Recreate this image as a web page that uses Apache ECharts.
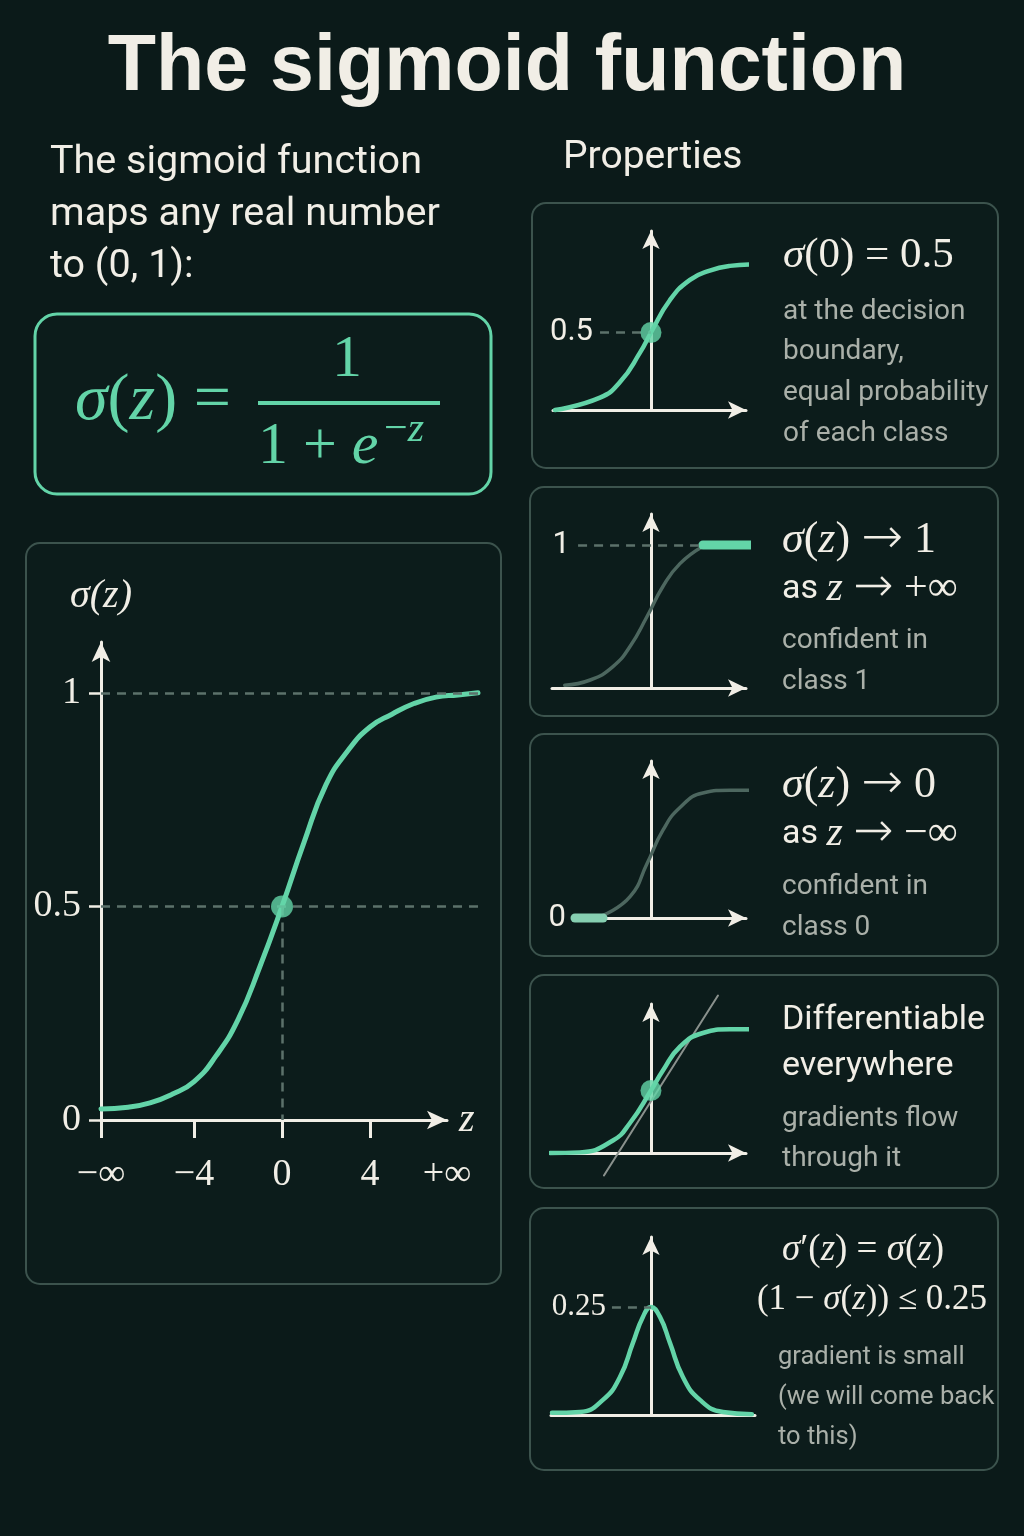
<!DOCTYPE html>
<html><head><meta charset="utf-8">
<script src="https://cdn.jsdelivr.net/npm/echarts@6/dist/echarts.min.js"></script>
<style>html,body{margin:0;padding:0;background:#0b1a19;}#c{width:1024px;height:1536px;}</style>
</head><body><div id="c"></div>
<script>
// ---------- data ----------
const mainZ     = [-8.23,-7,-6,-5,-4,-3,-2,-1,0,1,2,3,4,5,6,7,8,8.91];
const mainSigma = [0.026,0.03,0.04,0.06,0.09,0.15,0.235,0.36,0.5,0.65,0.785,0.865,0.92,0.95,0.975,0.99,0.995,1.0];
const mainYTicks = [0, 0.5, 1];
const mainGuides = [0.5, 1];
const mainXTicks = [-8.23, -4, 0, 4];
const mainXLabelValues = [-8.23, -4, 0, 4, 7.5];
const mainXLabelTexts  = ['−∞', '−4', '0', '4', '+∞'];

const p1Z     = [-4.9,-2.6,-1.58,-0.56,0,0.97,1.99,3.0,4.03,5.3];
const p1Sigma = [0,0.08,0.18,0.37,0.5,0.71,0.84,0.90,0.93,0.94];

const p2Z     = [-4.4,-3.1,-1.94,-1.07,-0.2,0.61,1.48,2.65];
const p2Sigma = [0.02,0.056,0.15,0.29,0.5,0.71,0.87,0.99];
const p2HighZ = [2.65, 5.3];
const p2HighV = [1, 1];

const p3Z     = [-2.45,-1.07,-0.2,0.61,1.48,2.65,4.03,5.2];
const p3Sigma = [0.02,0.16,0.41,0.66,0.83,0.94,0.96,0.96];
const p3LowZ  = [-3.88, -2.45];
const p3LowV  = [0, 0];

const p4Z     = [-5.15,-3.62,-1.94,-1.07,0,0.61,1.48,2.65,4.03,5.3];
const p4Sigma = [0,0.005,0.10,0.24,0.5,0.66,0.85,0.96,0.99,0.99];
const p4TangentZ = [-2.4, 3.42];
const p4TangentV = [-0.18, 1.26];

const p5Z     = [-5.05,-3.62,-2.45,-1.58,-0.92,-0.41,0,0.46,0.97,1.63,2.5,3.67,5.15];
const p5Deriv = [0.005,0.007,0.035,0.088,0.167,0.227,0.25,0.227,0.167,0.088,0.035,0.007,0.002];

// ---------- styles ----------
const BG='#0b1a19', GREEN='#63d4a8', WHITE='#f1eee6', GREY='#aab0a9', DASH='#5c716b', BORDER='#3c534d', DIM='#4d675f', TAN='#8a918d';
const SERIF='"Liberation Serif","DejaVu Serif",serif', SANS='Roboto,"Liberation Sans",sans-serif', ARROW='"DejaVu Sans",sans-serif';
const pairs = (a,b) => a.map((v,i)=>[v,b[i]]);

function miniX(g, min, max, arrow) {
  return {type:'value', gridIndex:g, min, max,
    axisLine:{show:true, onZero:true, lineStyle:{color:WHITE,width:3}, symbol: arrow?['none','arrow']:['none','none'], symbolSize:[13,18]},
    axisTick:{show:false}, axisLabel:{show:false}, splitLine:{show:false}};
}
function miniY(g, min, max, labelVals, margin, font) {
  return {type:'value', gridIndex:g, min, max,
    axisLine:{show:true, onZero:true, lineStyle:{color:WHITE,width:3}, symbol:['none','arrow'], symbolSize:[13,18]},
    axisTick:{show:false},
    axisLabel: labelVals ? {show:true, customValues:labelVals, margin, color:WHITE, fontFamily:font, fontSize:31,
      formatter:(v)=>String(v)} : {show:false},
    splitLine:{show:false}};
}
function curve(xi, data, color, width, extra) {
  return Object.assign({type:'line', xAxisIndex:xi, yAxisIndex:xi, data, smooth:0.5,
    symbol:'none', clip:false, lineStyle:{color, width, cap:'round'}, z:3}, extra||{});
}
function dashLine(xi, a, b) {
  return {type:'line', xAxisIndex:xi, yAxisIndex:xi, data:[], clip:false,
    markLine:{silent:true, symbol:['none','none'], label:{show:false}, animation:false,
      lineStyle:{color:DASH, width:2.5, type:[9,7]}, data:[[{coord:a},{coord:b}]]}, z:2};
}
function dot(xi, pt, size) {
  return {type:'scatter', xAxisIndex:xi, yAxisIndex:xi, data:[pt], symbolSize:size, itemStyle:{color:GREEN}, z:6, clip:false};
}

// ---------- graphic ----------
function rect(x,y,w,h,r,stroke,lw){ return {type:'rect', z:0, shape:{x,y,width:w,height:h,r}, style:{fill:'#0c1c1b', stroke, lineWidth:lw}}; }
function txt(x,y,text,font,fill,align,rich){ const s={text, x:0,y:0, font, fill, align:align||'left', verticalAlign:'middle'}; if(rich) s.rich=rich; return {type:'text', z:20, x, y, style:s}; }
const serifRich = (size, fill) => ({
  i:{font:'italic '+size+'px '+SERIF, fill}, n:{font:size+'px '+SERIF, fill}, s:{font:'34px '+SANS, fill},
  a:{font:'300 '+(size+6)+'px '+ARROW, fill}
});

const graphics = [
  rect(26,543,475,741,14,BORDER,2),
  rect(35,314,456,180,22,GREEN,3),
  rect(532,203,466,265,14,BORDER,2),
  rect(530,487,468,229,14,BORDER,2),
  rect(530,734,468,222,14,BORDER,2),
  rect(530,975,468,213,14,BORDER,2),
  rect(530,1208,468,262,14,BORDER,2),
  txt(507,68,'The sigmoid function','bold 79px "Liberation Sans",Arial,sans-serif',WHITE,'center'),
  txt(50,163,'The sigmoid function','39.5px '+SANS,WHITE),
  txt(50,215,'maps any real number','39.5px '+SANS,WHITE),
  txt(50,267,'to (0, 1):','39.5px '+SANS,WHITE),
  txt(563,158,'Properties','39px '+SANS,WHITE),
  // formula
  txt(75,402,'{i|σ}{n|(}{i|z}{n|) =}','66px '+SERIF,GREEN,'left',serifRich(66,GREEN)),
  txt(347,360,'1','60px '+SERIF,GREEN,'center'),
  {type:'line', z:20, shape:{x1:258,y1:403,x2:440,y2:403}, style:{stroke:GREEN,lineWidth:4}},
  txt(258,447,'{n|1 + }{i|e}','60px '+SERIF,GREEN,'left',serifRich(60,GREEN)),
  txt(384,430,'{n|−}{i|z}','42px '+SERIF,GREEN,'left',serifRich(42,GREEN)),
  // panel 1
  txt(783,256,'{i|σ}{n|(0) = 0.5}','43px '+SERIF,WHITE,'left',serifRich(43,WHITE)),
  txt(783,312,'at the decision','28px '+SANS,GREY),
  txt(783,352,'boundary,','28px '+SANS,GREY),
  txt(783,393,'equal probability','28px '+SANS,GREY),
  txt(783,434,'of each class','28px '+SANS,GREY),
  // panel 2
  txt(782,540,'{i|σ}{n|(}{i|z}{n|) }{a|→}{n| 1}','44px '+SERIF,WHITE,'left',serifRich(44,WHITE)),
  txt(782,589,'{s|as }{i|z}{n| }{a|→}{n| +∞}','42px '+SERIF,WHITE,'left',serifRich(42,WHITE)),
  txt(782,641,'confident in','28px '+SANS,GREY),
  txt(782,682,'class 1','28px '+SANS,GREY),
  // panel 3
  txt(782,785,'{i|σ}{n|(}{i|z}{n|) }{a|→}{n| 0}','44px '+SERIF,WHITE,'left',serifRich(44,WHITE)),
  txt(782,834,'{s|as }{i|z}{n| }{a|→}{n| −∞}','42px '+SERIF,WHITE,'left',serifRich(42,WHITE)),
  txt(782,887,'confident in','28px '+SANS,GREY),
  txt(782,928,'class 0','28px '+SANS,GREY),
  // panel 4
  txt(782,1020,'Differentiable','34px '+SANS,WHITE),
  txt(782,1066,'everywhere','34px '+SANS,WHITE),
  txt(782,1119,'gradients flow','28px '+SANS,GREY),
  txt(782,1159,'through it','28px '+SANS,GREY),
  // panel 5
  txt(863,1250,'{i|σ}{n|′(}{i|z}{n|) = }{i|σ}{n|(}{i|z}{n|)}','37px '+SERIF,WHITE,'center',serifRich(37,WHITE)),
  txt(872,1300,'{n|(1 − }{i|σ}{n|(}{i|z}{n|)) ≤ 0.25}','35px '+SERIF,WHITE,'center',serifRich(35,WHITE)),
  txt(778,1358,'gradient is small','25.5px '+SANS,GREY),
  txt(778,1398,'(we will come back','25.5px '+SANS,GREY),
  txt(778,1438,'to this)','25.5px '+SANS,GREY)
];

// ---------- option ----------
const option = {
  backgroundColor: BG,
  animation: false,
  graphic: graphics,
  grid: [
    {left:101, top:642, width:377, height:478, outerBoundsMode:'none'},   // 0 main data
    {left:101, top:642, width:346, height:478, outerBoundsMode:'none'},   // 1 main axes
    {left:553, top:231, width:193, height:179, outerBoundsMode:'none'},   // 2 p1
    {left:552, top:514, width:194, height:174, outerBoundsMode:'none'},   // 3 p2
    {left:575, top:761, width:171, height:157, outerBoundsMode:'none'},   // 4 p3
    {left:552, top:1004, width:194, height:149, outerBoundsMode:'none'},  // 5 p4
    {left:551, top:1237, width:204, height:178, outerBoundsMode:'none'}   // 6 p5
  ],
  xAxis: [
    {type:'value', gridIndex:0, min:-8.23, max:8.91, show:false},
    {type:'value', gridIndex:1, min:-8.23, max:7.5,
      name:'z', nameLocation:'end', nameGap:12,
      nameTextStyle:{color:WHITE, fontFamily:SERIF, fontStyle:'italic', fontSize:40, verticalAlign:'middle'},
      axisLine:{show:true, onZero:false, lineStyle:{color:WHITE,width:3}, symbol:['none','arrow'], symbolSize:[14,20]},
      axisTick:{show:true, customValues:mainXTicks, length:18, inside:false, lineStyle:{color:WHITE,width:3}},
      axisLabel:{show:true, customValues:mainXLabelValues, margin:36, color:WHITE, fontFamily:SERIF, fontSize:38,
        formatter:(v)=>{ let k=0,b=1e9; mainXLabelValues.forEach((x,i)=>{const d=Math.abs(x-v); if(d<b){b=d;k=i;}}); return mainXLabelTexts[k]; }},
      splitLine:{show:false}},
    miniX(2,-5.0,4.85,true),
    miniX(3,-5.05,4.85,true),
    miniX(4,-3.88,4.85,true),
    miniX(5,-5.05,4.85,true),
    miniX(6,-5.1,5.31,false)
  ],
  yAxis: [
    {type:'value', gridIndex:0, min:0, max:1.119, show:false},
    {type:'value', gridIndex:1, min:0, max:1.119,
      name:'σ(z)', nameLocation:'end', nameGap:26,
      nameTextStyle:{color:WHITE, fontFamily:SERIF, fontStyle:'italic', fontSize:40},
      axisLine:{show:true, onZero:false, lineStyle:{color:WHITE,width:3}, symbol:['none','arrow'], symbolSize:[14,20]},
      axisTick:{show:true, customValues:mainYTicks, length:12, inside:false, lineStyle:{color:WHITE,width:2.5}},
      axisLabel:{show:true, customValues:mainYTicks, margin:20, color:WHITE, fontFamily:SERIF, fontSize:38, formatter:(v)=>String(v)},
      splitLine:{show:false}},
    miniY(2,0,1.155,[0.5],-40,SANS),
    miniY(3,0,1.217,[1],-18,SANS),
    miniY(4,0,1.18,[0],9,SANS),
    miniY(5,0,1.192,null),
    miniY(6,0,0.412,[0.25],-55,SERIF)
  ],
  series: [
    // main chart
    dashLine(0,[-8.23,mainGuides[1]],[8.91,mainGuides[1]]),
    dashLine(0,[-8.23,mainGuides[0]],[8.91,mainGuides[0]]),
    dashLine(0,[0,mainGuides[0]],[0,0]),
    curve(0, pairs(mainZ,mainSigma), GREEN, 5),
    dot(0,[0,0.5],22),
    // p1
    dashLine(2,[-2.6,0.5],[0,0.5]),
    curve(2, pairs(p1Z,p1Sigma), GREEN, 4.5),
    dot(2,[0,0.5],21),
    // p2
    dashLine(3,[-3.72,1],[2.6,1]),
    curve(3, pairs(p2Z,p2Sigma), DIM, 3.5),
    curve(3, pairs(p2HighZ,p2HighV), GREEN, 9, {smooth:false}),
    // p3
    curve(4, pairs(p3Z,p3Sigma), DIM, 3.5),
    curve(4, pairs(p3LowZ,p3LowV), '#86cfb1', 9, {smooth:false, z:5}),
    // p4
    curve(5, pairs(p4TangentZ,p4TangentV), TAN, 2, {smooth:false, z:2}),
    curve(5, pairs(p4Z,p4Sigma), GREEN, 4.5),
    dot(5,[0,0.5],21),
    // p5
    dashLine(6,[-1.99,0.25],[0,0.25]),
    curve(6, pairs(p5Z,p5Deriv), GREEN, 4.5)
  ]
};
const chart = echarts.init(document.getElementById('c'), null, {renderer:'canvas'});
chart.setOption(option);
</script></body></html>
